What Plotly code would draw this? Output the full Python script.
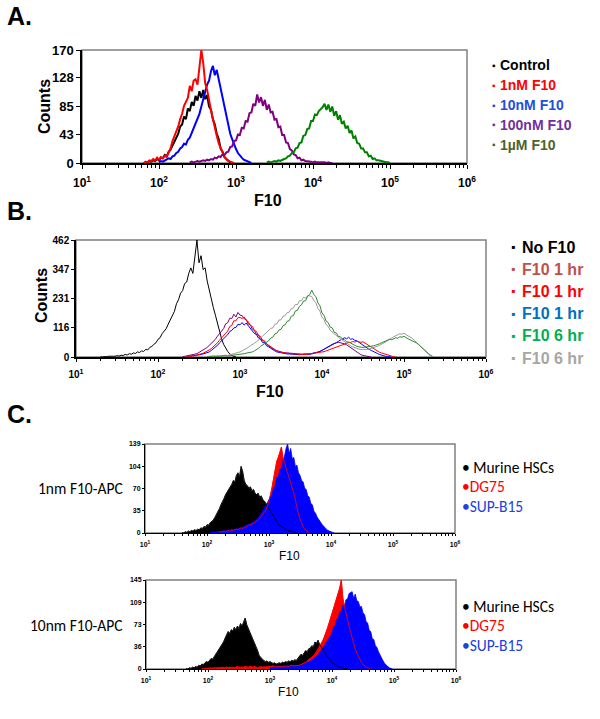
import plotly.graph_objects as go

W, H = 600, 719
STEP = 0.025  # log10 width of one histogram channel

# ---------------- Panel A ----------------
A_names = ["Control", "1nM F10", "10nM F10", "100nM F10", "1\u00b5M F10"]
A_text_colors = ["#000000", "#ff0000", "#2050d8", "#7030a0", "#4f6228"]
A_line_colors = ["#000000", "#ff0000", "#0000ff", "#800080", "#008000"]
A_starts = [1.85, 1.8, 2.0, 2.4, 3.4]
A_control = [1, 3, 2, 4, 3, 6, 4, 8, 7, 12, 10, 17, 20, 26, 31, 38, 44, 55, 58, 70, 66, 82, 78, 92, 86,
             101, 94, 108, 98, 110, 96, 102, 85, 80, 66, 58, 44, 36, 22, 17, 9, 6, 3, 1, 0]
A_1nM = [0, 2, 1, 4, 3, 6, 4, 8, 5, 9, 7, 11, 9, 16, 22, 33, 40, 48, 55, 66, 74, 86, 92, 98, 116, 108,
         124, 126, 118, 140, 170, 150, 120, 110, 92, 80, 66, 52, 41, 30, 22, 15, 9, 6, 3, 2, 1, 0]
A_10nM = [1, 3, 2, 4, 5, 7, 6, 10, 11, 15, 17, 22, 24, 29, 28, 35, 38, 45, 52, 58, 66, 74, 85, 96, 104,
          118, 124, 138, 146, 132, 140, 126, 112, 96, 84, 68, 56, 44, 36, 27, 21, 15, 11, 8, 5, 4, 2, 1, 0]
A_100nM = [1, 2, 1, 2, 3, 2, 3, 4, 3, 5, 4, 6, 5, 8, 7, 10, 9, 13, 12, 16,
           17, 24, 25, 33, 34, 43, 42, 53, 52, 63, 62, 75, 76, 89, 86, 103, 91, 99, 86, 95,
           80, 88, 76, 77, 65, 66, 54, 55, 42, 42, 31, 30, 21, 19, 13, 12, 7, 8, 4, 5,
           3, 3, 2, 2, 1, 2, 1, 1, 2, 1, 1, 0, 1, 0, 0]
A_1uM = [1, 2, 1, 2, 3, 2, 4, 3, 5, 6, 7, 10, 11, 15, 16, 22, 23, 30, 31, 41,
         42, 51, 52, 63, 63, 73, 72, 78, 81, 84, 89, 80, 88, 77, 85, 71, 78, 65, 72, 59,
         62, 52, 56, 45, 49, 37, 40, 30, 29, 22, 22, 16, 16, 10, 11, 6, 7, 4, 4, 3,
         2, 2, 1, 1, 0]
A_series = [A_control, A_1nM, A_10nM, A_100nM, A_1uM]
A_order = [0, 2, 1, 3, 4]
A_yticks = [0, 43, 85, 128, 170]

# ---------------- Panel B ----------------
B_names = ["No F10", "F10 1 hr", "F10 1 hr", "F10 1 hr", "F10 6 hr", "F10 6 hr"]
B_text_colors = ["#000000", "#c0504d", "#ff0000", "#0070c0", "#00b050", "#a6a6a6"]
B_line_colors = ["#000000", "#800080", "#ff0000", "#0000ff", "#2e8b2e", "#999999"]
B_starts = [1.3, 2.3, 2.35, 2.35, 2.6, 2.6]
B_nof10 = [1, 0, 2, 1, 3, 2, 4, 3, 5, 4,
           7, 6, 10, 8, 13, 11, 16, 14, 20, 18,
           24, 22, 30, 28, 38, 42, 50, 56, 70, 76,
           92, 104, 112, 130, 146, 168, 180, 210, 226, 252,
           262, 290, 296, 330, 352, 330, 398, 462, 372, 400,
           345, 352, 300, 262, 230, 195, 165, 130, 98, 72,
           50, 34, 22, 12, 6, 2, 0]
B_1hr_a = [1, 3, 2, 5, 6, 8, 11, 13, 18, 22,
           27, 33, 38, 46, 52, 62, 70, 82, 92, 104,
           112, 131, 135, 153, 152, 169, 158, 176, 165, 164,
           151, 149, 130, 127, 110, 105, 89, 87, 71, 68,
           58, 50, 44, 38, 33, 28, 25, 22, 20, 18,
           17, 16, 15, 14, 14, 12, 13, 12, 11, 12,
           11, 10, 11, 12, 14, 16, 18, 22, 26, 30,
           34, 40, 45, 50, 54, 56, 58, 56, 57, 52,
           48, 42, 36, 30, 24, 18, 13, 9, 6, 4,
           2, 1, 0]
B_1hr_b = [1, 3, 2, 4, 5, 7, 9, 12, 15, 19,
           22, 28, 33, 40, 48, 56, 66, 76, 84, 96,
           103, 121, 125, 143, 143, 155, 156, 152, 158, 144,
           140, 125, 121, 105, 101, 85, 81, 65, 64, 52,
           46, 40, 33, 28, 24, 21, 18, 16, 15, 14,
           14, 13, 12, 12, 11, 10, 11, 10, 10, 11,
           11, 12, 13, 14, 15, 17, 19, 21, 24, 27,
           30, 34, 37, 41, 44, 46, 49, 52, 55, 57,
           58, 61, 59, 62, 60, 58, 60, 55, 50, 44,
           37, 32, 27, 23, 19, 16, 13, 11, 8, 5,
           3, 1, 0]
B_1hr_c = [1, 2, 2, 3, 4, 6, 8, 10, 12, 14,
           16, 20, 26, 32, 40, 46, 56, 64, 72, 82,
           88, 101, 105, 115, 117, 129, 127, 136, 126, 134,
           124, 113, 107, 93, 89, 75, 71, 57, 56, 44,
           40, 34, 28, 24, 20, 18, 16, 14, 13, 12,
           12, 11, 11, 10, 10, 9, 10, 10, 11, 12,
           12, 14, 15, 17, 19, 22, 26, 30, 34, 40,
           44, 48, 53, 57, 62, 66, 70, 76, 72, 78,
           70, 72, 66, 64, 58, 52, 46, 40, 36, 30,
           26, 21, 17, 14, 10, 7, 5, 3, 2, 1,
           0]
B_6hr_a = [1, 2, 2, 3, 2, 3, 4, 3, 4, 5,
           4, 5, 6, 5, 7, 8, 9, 11, 13, 15,
           16, 18, 20, 24, 28, 34, 42, 48, 54, 60,
           64, 75, 78, 91, 94, 107, 109, 124, 127, 141,
           143, 161, 163, 182, 184, 200, 206, 221, 222, 240,
           246, 264, 247, 239, 214, 202, 174, 164, 142, 136,
           118, 115, 97, 95, 81, 80, 70, 68, 60, 59,
           54, 50, 46, 42, 40, 38, 38, 39, 40, 40,
           42, 44, 46, 48, 52, 56, 60, 62, 66, 70,
           68, 72, 76, 74, 80, 78, 82, 76, 72, 70,
           66, 62, 56, 50, 42, 36, 28, 20, 13, 7,
           2]
B_6hr_b = [2, 3, 2, 4, 3, 5, 4, 6, 5, 7,
           6, 8, 9, 11, 13, 16, 20, 24, 28, 34,
           38, 44, 48, 54, 60, 66, 74, 82, 90, 98,
           102, 113, 115, 129, 131, 146, 147, 161, 163, 175,
           177, 191, 193, 208, 206, 222, 222, 236, 232, 243,
           241, 239, 222, 215, 192, 181, 156, 149, 128, 121,
           106, 98, 90, 84, 78, 72, 66, 60, 56, 50,
           44, 40, 36, 33, 31, 30, 30, 29, 30, 32,
           34, 36, 39, 42, 46, 50, 54, 58, 64, 70,
           76, 80, 84, 88, 92, 90, 94, 88, 84, 80,
           74, 66, 58, 50, 42, 34, 26, 18, 10, 3,
           0]
B_series = [B_nof10, B_1hr_a, B_1hr_b, B_1hr_c, B_6hr_a, B_6hr_b]
B_order = [0, 1, 3, 2, 5, 4]
B_yticks = [0, 116, 231, 347, 462]

# ---------------- Panel C ----------------
C_names = ["Murine HSCs", "DG75", "SUP-B15"]
C_colors = ["#000000", "#ff0000", "#0000ff"]
C_text_colors = ["#000000", "#ff0000", "#2040e0"]
C_labels = ["1nm F10-APC", "10nm F10-APC"]

C1_starts = [1.6, 2.2, 2.05]
C1_hsc = [1, 0, 2, 1, 3, 2, 4, 3, 5, 4,
          6, 5, 8, 7, 10, 9, 13, 12, 16, 18,
          20, 24, 28, 34, 38, 44, 48, 54, 60, 64,
          66, 72, 76, 82, 80, 90, 94, 88, 104, 96,
          82, 76, 74, 70, 72, 66, 68, 62, 60, 62,
          56, 58, 52, 50, 46, 42, 36, 32, 28, 24,
          20, 17, 14, 12, 10, 8, 7, 5, 4, 4,
          3, 2, 1, 1, 0]
C1_dg75 = [1, 2, 2, 3, 2, 3, 4, 3, 5, 4,
           5, 6, 5, 7, 8, 7, 9, 10, 11, 12,
           12, 14, 15, 17, 18, 20, 23, 26, 30, 33,
           36, 42, 50, 60, 72, 86, 100, 112, 118, 128,
           134, 118, 110, 102, 96, 90, 82, 72, 62, 52,
           40, 30, 22, 15, 10, 6, 4, 2, 0]
C1_supb15 = [1, 1, 2, 1, 2, 2, 3, 2, 3, 3,
             4, 3, 4, 5, 4, 5, 6, 5, 7, 8,
             8, 9, 10, 11, 12, 13, 14, 15, 17, 19,
             21, 24, 27, 31, 34, 38, 42, 46, 52, 57,
             60, 71, 73, 87, 87, 99, 101, 113, 120, 132,
             139, 124, 132, 116, 118, 104, 106, 94, 90, 82,
             80, 70, 68, 58, 56, 46, 44, 34, 31, 25,
             22, 18, 14, 11, 8, 6, 4, 3, 2, 1,
             0]
C1_series = [C1_hsc, C1_dg75, C1_supb15]
C1_yticks = [0, 35, 70, 104, 139]

C2_starts = [1.65, 1.9, 3.0]
C2_hsc = [1, 0, 2, 1, 3, 2, 4, 3, 6, 5,
          8, 7, 10, 12, 11, 15, 17, 16, 20, 24,
          26, 30, 34, 39, 44, 50, 56, 61, 58, 64,
          62, 68, 64, 70, 66, 74, 70, 76, 83, 72,
          66, 60, 56, 48, 44, 36, 30, 22, 18, 16,
          14, 12, 13, 11, 12, 10, 9, 10, 8, 9,
          10, 9, 11, 10, 12, 11, 13, 12, 14, 13,
          15, 14, 17, 20, 24, 22, 27, 30, 28, 33,
          34, 38, 36, 44, 42, 47, 40, 36, 30, 27,
          24, 20, 18, 14, 11, 9, 7, 5, 4, 3,
          2, 2, 1, 1, 0]
C2_dg75 = [1, 0, 1, 1, 2, 1, 1, 2, 1, 2,
           2, 1, 2, 3, 2, 2, 3, 2, 3, 2,
           3, 2, 3, 4, 3, 3, 2, 3, 4, 3,
           3, 4, 3, 3, 4, 3, 2, 3, 4, 3,
           3, 4, 3, 4, 3, 4, 5, 4, 3, 4,
           4, 3, 4, 5, 4, 5, 4, 5, 6, 5,
           5, 6, 5, 6, 7, 8, 9, 11, 13, 16,
           17, 20, 22, 24, 28, 32, 36, 40, 46, 52,
           58, 66, 74, 82, 90, 100, 108, 116, 124, 132,
           145, 116, 102, 90, 80, 70, 60, 50, 40, 32,
           26, 20, 15, 11, 7, 5, 3, 2, 1, 0]
C2_supb15 = [2, 3, 2, 3, 4, 3, 4, 3, 4, 5,
             4, 5, 4, 5, 6, 5, 6, 5, 6, 6,
             6, 7, 8, 9, 10, 12, 13, 15, 17, 19,
             21, 23, 27, 30, 34, 38, 42, 46, 50, 54,
             58, 69, 70, 81, 82, 94, 93, 104, 101, 113,
             114, 123, 124, 126, 115, 122, 111, 110, 101, 102,
             91, 89, 77, 75, 63, 61, 49, 48, 38, 35,
             28, 22, 18, 13, 9, 6, 4, 2, 1, 0]
C2_series = [C2_hsc, C2_dg75, C2_supb15]
C2_yticks = [0, 36, 73, 109, 145]

DECADES = [1, 2, 3, 4, 5, 6]


def channels(start, n):
    return [10 ** (start + i * STEP) for i in range(n)]


def px(x):
    return x / W


def py(y):
    return 1 - y / H


fig = go.Figure()

# Panel A traces
for i in A_order:
    fig.add_trace(go.Scatter(x=channels(A_starts[i], len(A_series[i])), y=A_series[i],
                             mode="lines", line=dict(color=A_line_colors[i], width=2),
                             name=A_names[i], showlegend=False, xaxis="x", yaxis="y"))
# Panel B traces
for i in B_order:
    fig.add_trace(go.Scatter(x=channels(B_starts[i], len(B_series[i])), y=B_series[i],
                             mode="lines", line=dict(color=B_line_colors[i], width=1),
                             name=B_names[i], showlegend=False, xaxis="x2", yaxis="y2"))


def add_c(series, starts, xa, ya):
    # filled histograms: HSC, DG75, SUP-B15, then outlines of HSC and DG75 on top
    for i in [0, 1, 2]:
        fig.add_trace(go.Scatter(x=channels(starts[i], len(series[i])), y=series[i], mode="lines",
                                 fill="tozeroy", fillcolor=C_colors[i],
                                 line=dict(color=C_colors[i] if i else "#555555", width=0.8),
                                 name=C_names[i], showlegend=False, xaxis=xa, yaxis=ya))
    for i in [0, 1]:
        fig.add_trace(go.Scatter(x=channels(starts[i], len(series[i])), y=series[i], mode="lines",
                                 line=dict(color=C_colors[i], width=0.8),
                                 name=C_names[i], showlegend=False, xaxis=xa, yaxis=ya))


add_c(C1_series, C1_starts, "x3", "y3")
add_c(C2_series, C2_starts, "x4", "y4")

AR = "Liberation Sans, Arial, sans-serif"
CAL = "Carlito, Lato, sans-serif"
minor_vals = [m * 10 ** e for e in DECADES[:-1] for m in range(2, 10)]


def xaxis(dom, yref, fsize, bold, lw, tlen, mlen, standoff):
    return dict(type="log", range=[1, 6], domain=dom, anchor=yref, automargin=False,
                tickmode="array", tickvals=[10 ** d for d in DECADES],
                ticktext=["10<sup>%d</sup>" % d for d in DECADES],
                ticks="outside", ticklen=tlen, tickwidth=1, tickcolor="black",
                ticklabelstandoff=standoff,
                tickfont=dict(family=AR, size=fsize, color="black",
                              weight="bold" if bold else "normal"),
                showline=True, linecolor="black", linewidth=lw,
                showgrid=False, zeroline=False, fixedrange=True,
                minor=dict(tickvals=minor_vals, ticks="outside", ticklen=mlen,
                           tickwidth=1, tickcolor="black", showgrid=False))


def yaxis(dom, xref, ticks, fsize, bold, lw, tlen):
    return dict(range=[0, ticks[-1]], domain=dom, anchor=xref, automargin=False,
                tickmode="array", tickvals=ticks, ticktext=[str(t) for t in ticks],
                ticks="outside", ticklen=tlen, tickwidth=1, tickcolor="black",
                tickfont=dict(family=AR, size=fsize, color="black",
                              weight="bold" if bold else "normal"),
                showline=True, linecolor="black", linewidth=lw,
                showgrid=False, zeroline=False, fixedrange=True)


fig.update_layout(
    width=W, height=H, margin=dict(l=0, r=0, t=0, b=0, pad=0, autoexpand=False),
    paper_bgcolor="white", plot_bgcolor="white", showlegend=False,
    xaxis=xaxis([px(82), px(467)], "y", 12, True, 2, 4, 2.5, 4),
    yaxis=yaxis([py(163), py(50)], "x", A_yticks, 13, True, 1.5, 4),
    xaxis2=xaxis([px(76), px(486)], "y2", 10, True, 1.5, 3, 2, 4),
    yaxis2=yaxis([py(357), py(240)], "x2", B_yticks, 10, True, 1.5, 3),
    xaxis3=xaxis([px(145), px(455)], "y3", 7, True, 1, 2, 1.5, 3),
    yaxis3=yaxis([py(533), py(444)], "x3", C1_yticks, 7, True, 1, 2),
    xaxis4=xaxis([px(146), px(456)], "y4", 7, True, 1, 2, 1.5, 3),
    yaxis4=yaxis([py(669), py(580)], "x4", C2_yticks, 7, True, 1, 2),
)

# gray frame (top and right edges) behind the black axis lines
for k in ["", "2", "3", "4"]:
    fig.add_shape(type="rect", xref="x%s domain" % k, yref="y%s domain" % k,
                  x0=0, x1=1, y0=0, y1=1, line=dict(color="#808080", width=1.5),
                  layer="below")

ann = []


def text(t, x, y, size, color="black", family=AR, bold=False, xanchor="left", angle=0):
    ann.append(dict(text=("<b>%s</b>" % t) if bold else t, x=px(x), y=py(y),
                    xref="paper", yref="paper", showarrow=False, xanchor=xanchor,
                    yanchor="middle", textangle=angle,
                    font=dict(family=family, size=size, color=color)))


# panel letters
text("A.", 5, 16, 25, bold=True)
text("B.", 5, 211, 25, bold=True)
text("C.", 5, 414, 25, bold=True)

# axis titles
text("Counts", 44, 107, 16, bold=True, xanchor="center", angle=-90)
text("F10", 268, 200, 16, bold=True, xanchor="center")
text("Counts", 41, 296, 16, bold=True, xanchor="center", angle=-90)
text("F10", 270, 391, 16, bold=True, xanchor="center")
text("F10", 289, 556, 12, xanchor="center")
text("F10", 288, 692, 12, xanchor="center")

# legend A
for i, name in enumerate(A_names):
    y = 65.5 + i * 19.8
    text("\u25aa", 490, y, 10, color=A_text_colors[i])
    text(name, 498, y, 14, color=A_text_colors[i], bold=True)

# legend B
for i, name in enumerate(B_names):
    y = 247 + i * 22.2
    text("\u25aa", 509, y, 12, color=B_text_colors[i])
    text(name, 520, y, 16, color=B_text_colors[i], bold=True)

# panel C row labels and legends
text(C_labels[0], 36, 489, 15.5, family=CAL)
text(C_labels[1], 28, 625, 15.5, family=CAL)
for base in [467, 606]:
    for i, name in enumerate(C_names):
        label = ("\u2022 " if i == 0 else "\u2022") + name
        text(label, 460, base + i * 19.5, 15.5, color=C_text_colors[i], family=CAL)

fig.update_layout(annotations=ann)
fig.write_html("out.html", config={"displayModeBar": False},
               post_script="document.body.style.margin='0';document.body.style.overflow='hidden';")
